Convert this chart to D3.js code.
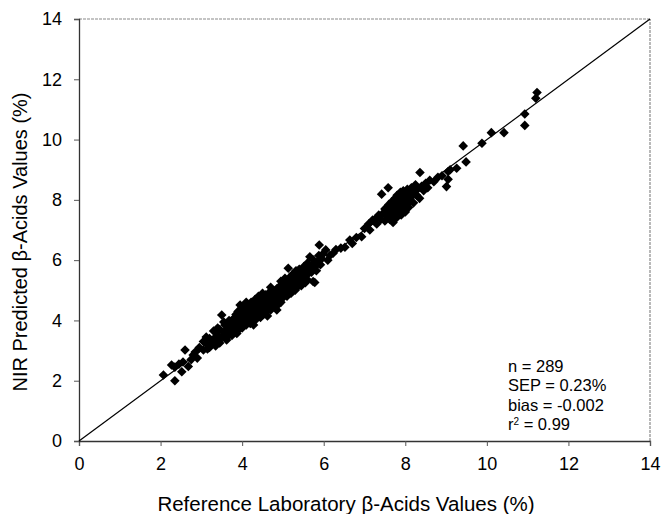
<!DOCTYPE html>
<html>
<head>
<meta charset="utf-8">
<script src="https://cdn.jsdelivr.net/npm/d3@7"></script>
<style>
  body { margin: 0; background: #fff; }
  text { font-family: "Liberation Sans", Arial, sans-serif; fill: #000; }
</style>
</head>
<body>
<div id="chart"></div>
<script>
// data, grouped by reference range
const lowRange = [[2.07,2.19],[2.35,2.0],[2.27,2.52],[2.35,2.45],[2.52,2.30],[2.68,2.47],[2.6,3.02],[2.55,2.62],[2.75,2.7],[2.85,2.95],[2.9,2.75],[2.95,3.1],[3.05,3.02],[2.8,2.85],[2.45,2.55]]
const range3 = [[3.1,3.25],[3.15,3.05],[3.2,3.4],[3.25,3.2],[3.3,3.65],[3.3,3.35],[3.35,3.15],[3.4,3.5],[3.42,3.3],[3.45,3.7],[3.5,4.18],[3.5,3.45],[3.55,3.6],[3.58,3.85],[3.6,3.4],[3.62,3.35],[3.65,3.75],[3.68,3.55],[3.7,3.9],[3.72,3.65],[3.75,3.8],[3.78,4.05],[3.8,3.6],[3.82,3.75],[3.85,3.95],[3.87,3.57],[3.88,4.1],[3.9,3.8],[3.92,3.7],[3.95,4.51],[3.95,4.0],[3.97,3.85],[3.98,4.2],[3.35,3.45],[3.45,3.25],[3.6,3.65],[3.75,3.5],[3.85,4.2],[3.2,3.1],[3.05,3.3],[3.55,3.95],[3.68,4.0],[3.9,4.3],[3.12,3.45],[3.4,3.75]]
const range4 = [[4.0,4.1],[4.0,3.75],[4.02,4.35],[4.05,3.95],[4.05,4.2],[4.08,4.5],[4.1,3.85],[4.1,4.05],[4.12,4.3],[4.15,4.0],[4.15,4.45],[4.18,4.15],[4.2,3.9],[4.2,4.25],[4.22,4.6],[4.25,4.1],[4.25,4.35],[4.28,4.0],[4.3,4.5],[4.3,4.2],[4.32,4.7],[4.35,4.3],[4.35,4.05],[4.38,4.45],[4.4,4.2],[4.4,4.6],[4.42,4.35],[4.45,4.1],[4.45,4.5],[4.48,4.75],[4.5,4.3],[4.5,4.55],[4.52,4.2],[4.55,4.65],[4.55,4.4],[4.58,4.85],[4.6,4.3],[4.6,4.55],[4.62,4.7],[4.65,4.45],[4.65,4.9],[4.68,4.6],[4.7,4.35],[4.7,4.75],[4.72,5.0],[4.75,4.5],[4.75,4.8],[4.78,4.65],[4.8,4.95],[4.8,4.45],[4.82,4.7],[4.85,5.05],[4.85,4.6],[4.88,4.85],[4.9,4.55],[4.9,5.1],[4.92,4.75],[4.95,5.0],[4.95,4.6],[4.98,5.2],[4.1,4.6],[4.28,3.85],[4.5,4.9],[4.62,4.15],[4.7,5.1],[4.85,4.35],[4.95,5.3],[4.4,4.8],[4.2,4.4],[4.6,4.8],
  [4.03,4.0],[4.13,4.15],[4.23,4.05],[4.33,4.4],[4.43,4.25],[4.53,4.6],[4.63,4.6],[4.73,4.6],[4.83,4.85]]
const range5 = [[5.0,5.0],[5.0,4.75],[5.02,5.25],[5.05,4.9],[5.05,5.4],[5.08,5.1],[5.1,4.8],[5.1,5.3],[5.12,5.0],[5.13,5.73],[5.15,5.2],[5.15,4.95],[5.18,5.45],[5.2,5.1],[5.2,4.9],[5.22,5.3],[5.25,5.55],[5.25,5.05],[5.28,5.2],[5.3,5.4],[5.3,5.0],[5.32,5.65],[5.35,5.3],[5.35,5.1],[5.38,5.5],[5.4,5.2],[5.4,5.7],[5.42,5.4],[5.45,5.55],[5.45,5.15],[5.48,5.35],[5.5,5.65],[5.5,5.45],[5.52,5.8],[5.55,5.5],[5.55,5.25],[5.58,5.65],[5.6,5.9],[5.62,5.55],[5.65,5.75],[5.66,6.11],[5.7,5.6],[5.72,5.85],[5.74,5.29],[5.78,5.26],[5.75,6.0],[5.8,5.8],[5.82,5.65],[5.85,5.95],[5.88,6.15],[5.89,6.5],[5.92,5.85],[5.95,6.05],[5.98,6.2],[5.6,5.35],
  [5.07,5.15],[5.17,5.3],[5.27,5.3],[5.37,5.45],[5.47,5.5],[5.57,5.75],[5.67,5.7],[5.77,5.9]]
const range6 = [[6.05,6.34],[6.1,6.0],[6.15,6.15],[6.23,6.23],[6.3,6.35],[6.42,6.4],[6.52,6.43],[6.64,6.67],[6.7,6.55],[6.8,6.75],[6.93,6.78],[7.0,7.05],[7.13,7.0],[7.2,7.33],[7.1,7.2]]
const range7 = [[7.25,7.35],[7.3,7.2],[7.35,7.5],[7.4,7.35],[7.42,8.19],[7.45,7.55],[7.5,7.3],[7.5,7.7],[7.55,7.45],[7.58,8.4],[7.6,7.6],[7.6,7.85],[7.62,7.35],[7.65,7.7],[7.68,7.95],[7.7,7.5],[7.72,7.8],[7.75,8.05],[7.75,7.6],[7.78,7.4],[7.8,7.9],[7.8,8.15],[7.82,7.7],[7.85,7.55],[7.85,8.0],[7.88,8.25],[7.9,7.8],[7.9,7.5],[7.92,8.1],[7.95,7.7],[7.95,8.3],[7.98,7.95],[8.0,8.15],[8.0,7.6],[8.02,7.85],[8.05,8.0],[8.05,8.35],[8.08,7.75],[8.1,8.2],[8.12,7.95],[8.15,8.4],[8.15,8.1],[8.2,7.9],[8.2,8.25],[8.25,8.5],[8.28,8.15],[8.3,8.35],[8.35,8.05],[8.36,8.91],[8.4,8.45],[8.45,8.3],[8.5,8.55],[8.55,8.4],[8.6,8.65],[7.7,7.25]]
const highRange = [[8.7,8.6],[8.8,8.75],[8.9,8.8],[9.01,8.44],[9.05,8.68],[9.05,8.94],[9.1,9.0],[9.26,9.05],[9.42,9.79],[9.49,9.26],[9.88,9.88],[10.11,10.23],[10.42,10.23],[10.93,10.47],[10.93,10.85],[11.2,11.37],[11.23,11.56]]

const ticks = [0, 2, 4, 6, 8, 10, 12, 14]
const statLines = ["n = 289", "SEP = 0.23%", "bias = -0.002", "r2 = 0.99"]

const points = [].concat(lowRange, range3, range4, range5, range6, range7, highRange)

const W = 661, H = 514
const m = { left: 79, top: 19, right: 11, bottom: 73 }

const svg = d3.select("#chart").append("svg")
  .attr("width", W).attr("height", H)

const x = d3.scaleLinear().domain([0, 14]).range([m.left, W - m.right])
const y = d3.scaleLinear().domain([0, 14]).range([H - m.bottom, m.top])

// frame (top/right are faint)
svg.append("line")
  .attr("x1", x(0)).attr("x2", x(14)).attr("y1", y(14)).attr("y2", y(14))
  .attr("stroke", "#8a8a8a").attr("stroke-width", 1.2).attr("stroke-dasharray", "3,1")
svg.append("line")
  .attr("x1", x(14)).attr("x2", x(14)).attr("y1", y(0)).attr("y2", y(14))
  .attr("stroke", "#8a8a8a").attr("stroke-width", 1.2).attr("stroke-dasharray", "3,1")

const xAxis = svg.append("g")
  .attr("transform", `translate(0,${y(0)})`)
  .call(d3.axisBottom(x).tickValues(ticks).tickSize(5).tickPadding(11))
const yAxis = svg.append("g")
  .attr("transform", `translate(${x(0)},0)`)
  .call(d3.axisLeft(y).tickValues(ticks).tickSize(5).tickPadding(12))

;[xAxis, yAxis].forEach(g => {
  g.select(".domain").attr("stroke", "#333").attr("stroke-width", 1.3)
  g.selectAll(".tick line").attr("stroke", "#555")
  g.selectAll("text").attr("font-size", 18).attr("font-family", "Liberation Sans, Arial, sans-serif")
})

// 1:1 line
svg.append("line")
  .attr("x1", x(0)).attr("y1", y(0)).attr("x2", x(14)).attr("y2", y(14))
  .attr("stroke", "#000").attr("stroke-width", 1.2)

const diamond = d3.symbol(d3.symbolSquare).size(46)
svg.append("g").selectAll("path")
  .data(points)
  .enter().append("path")
  .attr("d", diamond)
  .attr("fill", "#000")
  .attr("transform", d => `translate(${x(d[0])},${y(d[1])}) rotate(45)`)

// stats box
const st = svg.append("g").attr("font-size", 16.5)
statLines.forEach((s, i) => {
  const t = st.append("text")
    .attr("x", 508).attr("y", 372 + i * 19.3)
  if (s.startsWith("r2")) {
    t.append("tspan").text("r")
    t.append("tspan").attr("dy", -5).attr("font-size", 10).text("2")
    t.append("tspan").attr("dy", 5).text(" = 0.99")
  } else {
    t.text(s)
  }
})

svg.append("text")
  .attr("x", 346).attr("y", 511)
  .attr("text-anchor", "middle").attr("font-size", 20.5)
  .text("Reference Laboratory β-Acids Values (%)")

svg.append("text")
  .attr("transform", `translate(27,${(y(0) + y(14)) / 2 + 12}) rotate(-90)`)
  .attr("text-anchor", "middle").attr("font-size", 20)
  .text("NIR Predicted β-Acids Values (%)")
</script>
</body>
</html>
